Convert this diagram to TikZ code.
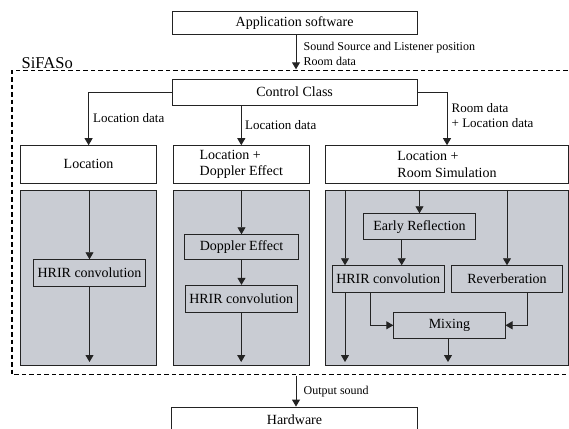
\documentclass[tikz,border=0pt]{standalone}
\usepackage{fontspec}
\setmainfont{Liberation Serif}
\usetikzlibrary{arrows.meta}
\definecolor{panel}{RGB}{201,204,211}
\definecolor{ink}{RGB}{35,35,35}
\begin{document}
\begin{tikzpicture}[x=1pt,y=-1pt,
  box/.style={draw=ink, line width=0.9pt, fill=white, inner sep=0pt, font=\fontsize{14}{16.7}\selectfont},
  inbox/.style={box, fill=panel},
  pane/.style={draw=ink, line width=0.9pt, fill=panel, inner sep=0pt},
  lbl/.style={inner sep=0pt, font=\fontsize{13}{15.6}\selectfont, align=left},
  slbl/.style={inner sep=0pt, font=\fontsize{12}{15}\selectfont, align=left},
  arr/.style={draw=ink, line width=0.9pt, -{Triangle[width=8pt,length=7pt]}},
  frame/.style={draw=black, line width=1.7pt, dash pattern=on 4.5pt off 3pt}
]
\useasboundingbox (0,0) rectangle (569,428);
\clip (0,0) rectangle (569,428);

% SiFASo frame
\draw[frame] (575,70.5) -- (11.7,70.5) -- (11.7,374.5) -- (575,374.5);
\node[inner sep=0pt, anchor=base west, font=\fontsize{16.5}{18}\selectfont] (sif) at (21.5,68) {SiFASo};

% top / bottom
\node[box, minimum width=245.3pt, minimum height=22.6pt] (app) at (294.6,23) {Application software};
\node[box, minimum width=245.6pt, minimum height=26pt] (hw) at (294.5,420) {Hardware};
\node[box, minimum width=245.3pt, minimum height=25.7pt] (ctrl) at (294.6,92.2) {Control Class};

\coordinate (sin) at (296,69.3);
\coordinate (sout) at (296,375.5);
\draw[arr] (sin |- app.south) -- (sin);
\draw[arr] (sout) -- (sout |- hw.north);
\node[slbl, anchor=west] (t1) at (303.5,53.5) {Sound Source and Listener position\\Room data};
\node[slbl, anchor=west] (t2) at (303.5,391.7) {Output sound};

% module headers
\node[box, minimum width=135.8pt, minimum height=37.3pt] (loc1) at (88.6,164.3) {Location};
\node[box, minimum width=136pt, minimum height=37.3pt, align=left] (loc2) at (241.3,164.3) {Location +\\Doppler Effect};
\node[box, minimum width=242.6pt, minimum height=37.3pt, align=left] (loc3) at (447,164.3) {Location +\\Room Simulation};

\draw[arr] (ctrl.west) -| (loc1.north);
\draw[arr] (ctrl.south -| loc2.north) -- (loc2.north);
\draw[arr] (ctrl.east) -| (loc3.north);
\node[lbl, anchor=west] (c1) at (93,118) {Location data};
\node[lbl, anchor=west] (c2) at (245,125) {Location data};
\node[lbl, anchor=west] (c3) at (451.5,115.5) {Room data\\+ Location data};

% grey panes
\node[pane, minimum width=135.8pt, minimum height=174.7pt] (g1) at (88.6,277.7) {};
\node[pane, minimum width=136pt, minimum height=174.7pt] (g2) at (241.3,277.7) {};
\node[pane, minimum width=242.6pt, minimum height=174.7pt] (g3) at (447,277.7) {};

% pane 1
\node[inbox, minimum width=112.4pt, minimum height=27pt] (h1) at (89.5,273.2) {HRIR convolution};
\draw[arr] (g1.north -| h1.north) -- (h1.north);
\draw[arr, shorten >=3.5pt] (h1.south) -- (h1.south |- g1.south);

% pane 2
\node[inbox, minimum width=113.3pt, minimum height=25pt] (dop) at (241.5,247.2) {Doppler Effect};
\node[inbox, minimum width=112.5pt, minimum height=27pt] (h2) at (241.2,298.8) {HRIR convolution};
\draw[arr] (g2.north -| dop.north) -- (dop.north);
\draw[arr] (dop.south) -- (dop.south |- h2.north);
\draw[arr, shorten >=3.5pt] (h2.south) -- (h2.south |- g2.south);

% pane 3
\node[inbox, minimum width=112.4pt, minimum height=26pt] (er) at (419.5,226.7) {Early Reflection};
\node[inbox, minimum width=111.7pt, minimum height=26.6pt] (h3) at (388.2,279) {HRIR convolution};
\node[inbox, minimum width=110.6pt, minimum height=26.6pt] (rev) at (507,279) {Reverberation};
\node[inbox, minimum width=111.3pt, minimum height=26pt] (mix) at (449.4,325.3) {Mixing};
\coordinate (xa) at (345,0);
\coordinate (xb) at (401.7,0);
\coordinate (xc) at (370.8,0);
\coordinate (xd) at (527,0);
\coordinate (xe) at (448,0);
\draw[arr] (g3.north -| xa) -- (h3.north -| xa);
\draw[arr] (g3.north -| er.north) -- (er.north);
\draw[arr] (g3.north -| rev.north) -- (rev.north);
\draw[arr] (er.south -| xb) -- (h3.north -| xb);
\draw[arr, shorten >=3.5pt] (h3.south -| xa) -- (g3.south -| xa);
\draw[arr] (h3.south -| xc) |- (mix.west);
\draw[arr] (rev.south -| xd) |- (mix.east);
\draw[arr, shorten >=3.5pt] (mix.south -| xe) -- (g3.south -| xe);
\end{tikzpicture}
\end{document}
